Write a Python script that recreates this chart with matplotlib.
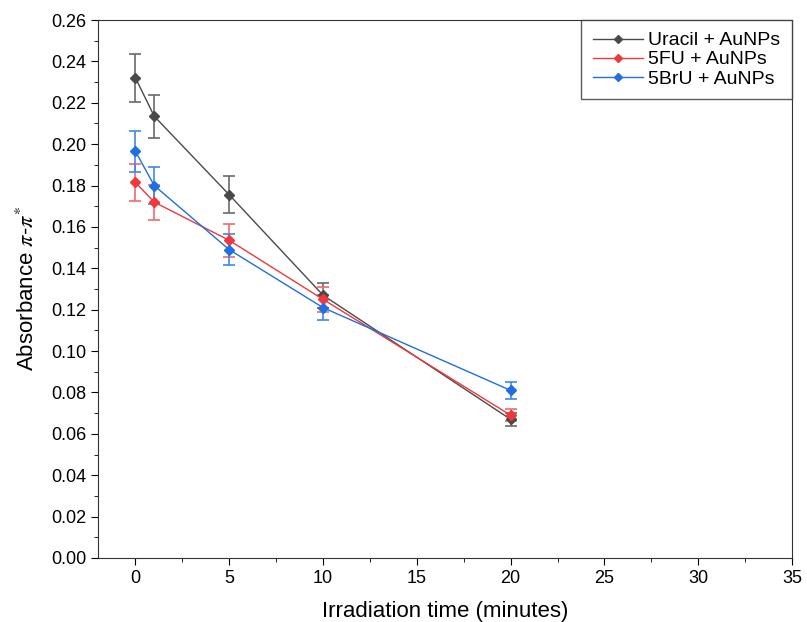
import matplotlib
matplotlib.use('Agg')
import matplotlib.pyplot as plt
from matplotlib.ticker import MultipleLocator
from matplotlib.lines import Line2D

plt.rcParams['font.family'] = ['Liberation Sans', 'DejaVu Sans']
plt.rcParams['mathtext.fontset'] = 'stix'

# data
time_min = [0, 1, 5, 10, 20]
uracil = [0.232, 0.2135, 0.1755, 0.127, 0.067]
uracil_err = [0.0115, 0.0105, 0.009, 0.006, 0.003]
fu = [0.1815, 0.172, 0.1535, 0.125, 0.069]
fu_err = [0.009, 0.0085, 0.008, 0.006, 0.003]
bru = [0.1965, 0.18, 0.149, 0.121, 0.081]
bru_err = [0.01, 0.009, 0.0075, 0.006, 0.004]

labels = ['Uracil + AuNPs', '5FU + AuNPs', '5BrU + AuNPs']
colors = ['#4a4a4a', '#f0383c', '#1f6fe0']
err_colors = ['#6a6a6a', '#f06a6c', '#3f88ea']

fig = plt.figure(figsize=(8.07, 6.22), dpi=100)
ax = fig.add_axes([0.1214, 0.1029, 0.86, 0.8649])

handles = []
for y, e, lab, c, ec in zip([uracil, fu, bru], [uracil_err, fu_err, bru_err], labels, colors, err_colors):
    ax.errorbar(time_min, y, yerr=e, color=c, ecolor=ec, elinewidth=1.2,
                capsize=4, capthick=1.2, marker='D', markersize=5,
                linewidth=1)
    handles.append(Line2D([], [], color=c, marker='D', markersize=4.5,
                          linewidth=1, label=lab))

ax.set_xlim(-2, 35)
ax.set_ylim(0, 0.26)
ax.xaxis.set_major_locator(MultipleLocator(5))
ax.xaxis.set_minor_locator(MultipleLocator(2.5))
ax.yaxis.set_major_locator(MultipleLocator(0.02))
ax.yaxis.set_minor_locator(MultipleLocator(0.01))
ax.yaxis.set_major_formatter(plt.FormatStrFormatter('%.2f'))
ax.tick_params(which='major', direction='out', length=5, labelsize=13)
ax.tick_params(which='minor', direction='out', length=3)
for s in ax.spines.values():
    s.set_color('#333333')

ax.set_xlabel('Irradiation time (minutes)', fontsize=16, labelpad=10)
ax.set_ylabel(r'Absorbance $\pi$-$\pi^{*}$', fontsize=16, labelpad=9)

leg = ax.legend(handles=handles, loc='upper right', borderaxespad=0,
                fontsize=14, fancybox=False, edgecolor='#333333',
                handlelength=2.6, borderpad=0.6, labelspacing=0.08,
                handletextpad=0.25)
leg.get_frame().set_linewidth(1)

fig.savefig('out.png', dpi=100)
